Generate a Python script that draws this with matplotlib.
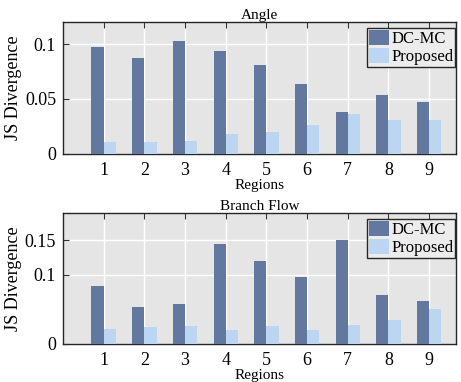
import numpy as np
import matplotlib.pyplot as plt

regions = [1, 2, 3, 4, 5, 6, 7, 8, 9]
angle_dcmc = [0.0970, 0.0876, 0.1027, 0.0933, 0.0812, 0.0633, 0.0382, 0.0536, 0.0473]
angle_prop = [0.0109, 0.0106, 0.0118, 0.0185, 0.0203, 0.0264, 0.0364, 0.0312, 0.0312]
flow_dcmc = [0.0837, 0.0529, 0.0572, 0.1442, 0.1207, 0.0976, 0.1500, 0.0702, 0.0625]
flow_prop = [0.0221, 0.0240, 0.0264, 0.0207, 0.0264, 0.0207, 0.0279, 0.0351, 0.0510]

c_dcmc = '#63789f'
c_prop = '#bcd6f2'

plt.rcParams['font.family'] = ['Liberation Serif', 'DejaVu Serif']

fig = plt.figure(figsize=(4.61, 3.82), dpi=100)
ax1 = fig.add_axes([0.1367, 0.5969, 0.8525, 0.3455])
ax2 = fig.add_axes([0.1367, 0.0995, 0.8525, 0.3437])

def panel(ax, dcmc, prop, title, ylim, yticks, yticklabels):
    x = np.array(regions)
    w = 0.3
    ax.set_facecolor('#e5e5e5')
    ax.bar(x - w / 2, dcmc, w, color=c_dcmc, label='DC-MC', zorder=3)
    ax.bar(x + w / 2, prop, w, color=c_prop, label='Proposed', zorder=3)
    ax.set_xlim(0, 9.66)
    ax.set_ylim(*ylim)
    ax.set_xticks(x)
    ax.set_yticks(yticks)
    ax.set_yticklabels(yticklabels)
    ax.grid(True, color='white', linewidth=1.0, zorder=0)
    ax.tick_params(direction='in', top=True, right=False, labelsize=13,
                   length=4, color='#333333')
    ax.tick_params(axis='x', pad=6)
    ax.tick_params(axis='y', pad=5)
    for s in ax.spines.values():
        s.set_color('#262626')
        s.set_linewidth(1.0)
    ax.set_title(title, fontsize=11, pad=2)
    ax.set_xlabel('Regions', fontsize=11, labelpad=0)
    ax.set_ylabel('JS Divergence', fontsize=13, labelpad=2)
    leg = ax.legend(loc='upper right', bbox_to_anchor=(0.998, 0.955), fontsize=12,
                    frameon=True, fancybox=False,
                    borderpad=0.12, labelspacing=0.05, handlelength=1.25,
                    handleheight=1.0, handletextpad=0.1, borderaxespad=0.0)
    leg.get_frame().set_edgecolor('#262626')
    leg.get_frame().set_facecolor('#ececec')
    leg.get_frame().set_alpha(1)
    leg.get_frame().set_linewidth(1.0)

panel(ax1, angle_dcmc, angle_prop, 'Angle', (0, 0.12), [0, 0.05, 0.1], ['0', '0.05', '0.1'])
panel(ax2, flow_dcmc, flow_prop, 'Branch Flow', (0, 0.19), [0, 0.1, 0.15], ['0', '0.1', '0.15'])

fig.savefig('out.png', dpi=100)
